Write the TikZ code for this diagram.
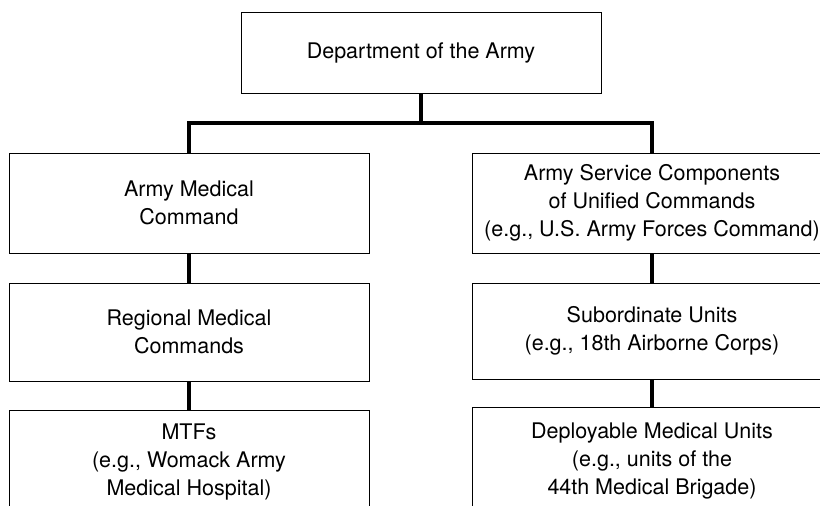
\documentclass[tikz,border=0pt]{standalone}
\usepackage{fontspec}
\setmainfont{TeX Gyre Heros}
\usetikzlibrary{positioning}

\begin{document}
\begin{tikzpicture}[
        box/.style={draw, line width=0.6pt, rectangle, minimum width=9cm,
                    minimum height=2.5cm, inner sep=0pt, align=center,
                    font=\fontsize{15.3}{19.7}\selectfont},
        link/.style={line width=2.6pt}
    ]
            \useasboundingbox (0,0) rectangle (20.5,-12.65);
            \node[box, minimum height=2.025cm](dept) at (10.525,-1.3125) {Department of the Army};
            \node[box](amc) at (4.725,-5.075)  {Army Medical\\Command};
            \node[box, minimum height=2.45cm](rmc) at (4.725,-8.3) {Regional Medical\\Commands};
            \node[box, minimum height=2.6cm](mtf) at (4.725,-11.55) {MTFs\\(e.g., Womack Army\\Medical Hospital)};
            \node[box](asc) at (16.3,-5.075)   {Army Service Components\\of Unified Commands\\(e.g., U.S. Army Forces Command)};
            \node[box, minimum height=2.4cm](sub) at (16.3,-8.275) {Subordinate Units\\(e.g., 18th Airborne Corps)};
            \node[box, minimum height=2.7cm](dmu) at (16.3,-11.525)  {Deployable Medical Units\\(e.g., units of the\\44th Medical Brigade)};
            \coordinate (bar) at (10.525,-3.075);
            \draw[link] (dept) -- (bar) -| (amc);
            \draw[link] (bar) -| (asc);
            \draw[link] (amc) -- (rmc);
            \draw[link] (rmc) -- (mtf);
            \draw[link] (asc) -- (sub);
            \draw[link] (sub) -- (dmu);
        \end{tikzpicture}
\end{document}
